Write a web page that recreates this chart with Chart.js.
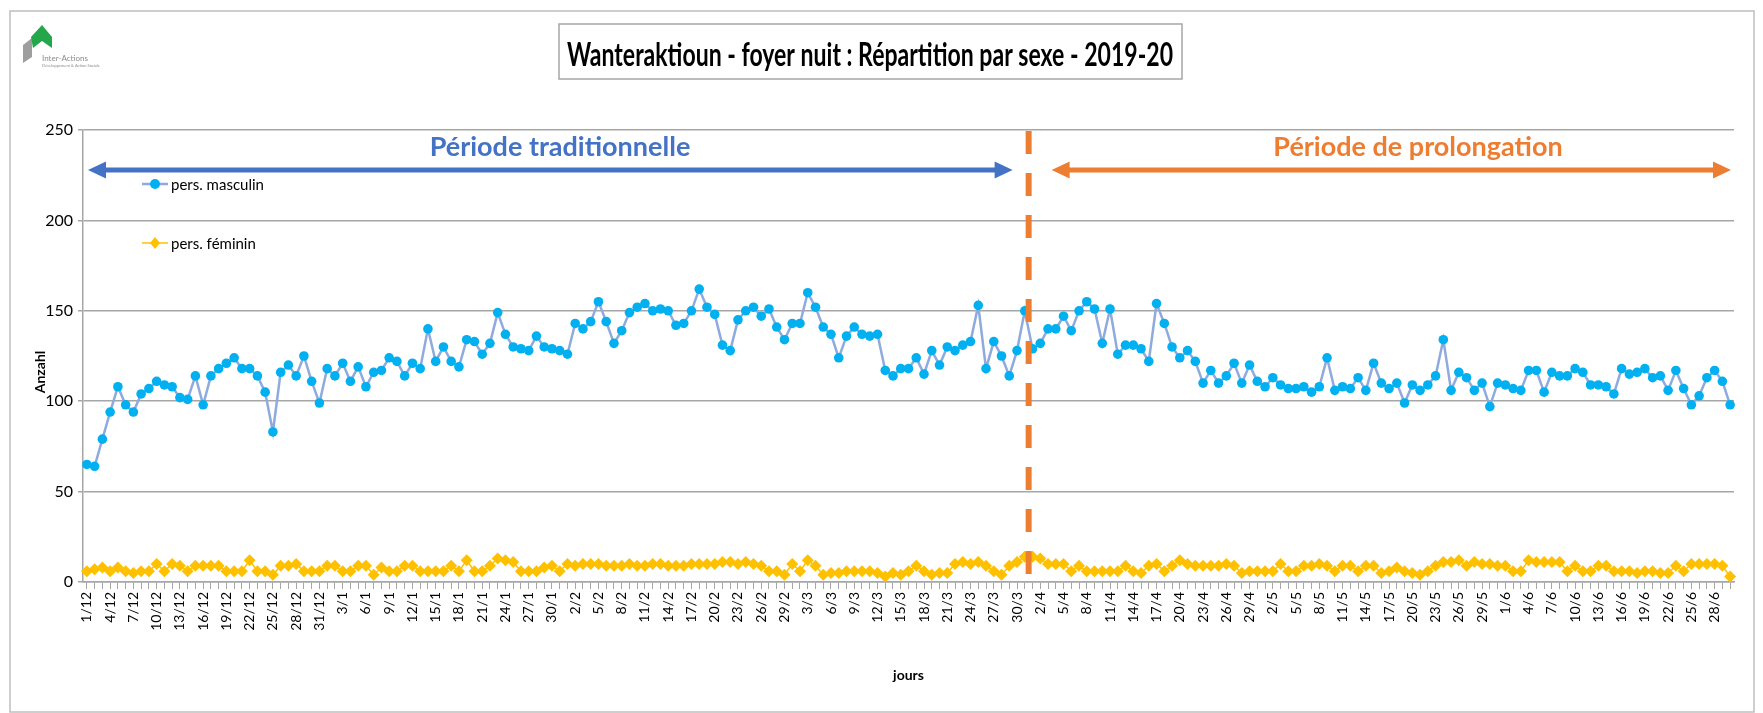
<!DOCTYPE html>
<html lang="fr">
<head>
<meta charset="utf-8">
<title>Wanteraktioun - foyer nuit</title>
<script src="https://cdn.jsdelivr.net/npm/chart.js@4.4.1/dist/chart.umd.min.js"></script>
<style>
  html, body { margin: 0; padding: 0; background: #fff; }
  #wrap { width: 1763px; height: 713px; }
</style>
</head>
<body>
<div id="wrap"><canvas id="chart" width="1763" height="713"></canvas></div>
<script>
const FONT = "Lato, 'Open Sans', 'DejaVu Sans', sans-serif";

// winter season Dec 2019 -> Jun 2020, one category per day
const months = [12, 1, 2, 3, 4, 5, 6];
const monthDays = [31, 31, 29, 31, 30, 31, 30];

const masculin = [
  65, 64, 79, 94, 108, 98, 94, 104, 107, 111,
  109, 108, 102, 101, 114, 98, 114, 118, 121, 124,
  118, 118, 114, 105, 83, 116, 120, 114, 125, 111,
  99, 118, 114, 121, 111, 119, 108, 116, 117, 124,
  122, 114, 121, 118, 140, 122, 130, 122, 119, 134,
  133, 126, 132, 149, 137, 130, 129, 128, 136, 130,
  129, 128, 126, 143, 140, 144, 155, 144, 132, 139,
  149, 152, 154, 150, 151, 150, 142, 143, 150, 162,
  152, 148, 131, 128, 145, 150, 152, 147, 151, 141,
  134, 143, 143, 160, 152, 141, 137, 124, 136, 141,
  137, 136, 137, 117, 114, 118, 118, 124, 115, 128,
  120, 130, 128, 131, 133, 153, 118, 133, 125, 114,
  128, 150, 129, 132, 140, 140, 147, 139, 150, 155,
  151, 132, 151, 126, 131, 131, 129, 122, 154, 143,
  130, 124, 128, 122, 110, 117, 110, 114, 121, 110,
  120, 111, 108, 113, 109, 107, 107, 108, 105, 108,
  124, 106, 108, 107, 113, 106, 121, 110, 107, 110,
  99, 109, 106, 109, 114, 134, 106, 116, 113, 106,
  110, 97, 110, 109, 107, 106, 117, 117, 105, 116,
  114, 114, 118, 116, 109, 109, 108, 104, 118, 115,
  116, 118, 113, 114, 106, 117, 107, 98, 103, 113,
  117, 111, 98
];

const feminin = [
  6, 7, 8, 6, 8, 6, 5, 6, 6, 10,
  6, 10, 9, 6, 9, 9, 9, 9, 6, 6,
  6, 12, 6, 6, 4, 9, 9, 10, 6, 6,
  6, 9, 9, 6, 6, 9, 9, 4, 8, 6,
  6, 9, 9, 6, 6, 6, 6, 9, 6, 12,
  6, 6, 9, 13, 12, 11, 6, 6, 6, 8,
  9, 6, 10, 9, 10, 10, 10, 9, 9, 9,
  10, 9, 9, 10, 10, 9, 9, 9, 10, 10,
  10, 10, 11, 11, 10, 11, 10, 9, 6, 6,
  4, 10, 6, 12, 9, 4, 5, 5, 6, 6,
  6, 6, 5, 3, 5, 4, 6, 9, 6, 4,
  5, 5, 10, 11, 10, 11, 9, 6, 4, 9,
  11, 14, 14, 13, 10, 10, 10, 6, 9, 6,
  6, 6, 6, 6, 9, 6, 5, 9, 10, 6,
  9, 12, 10, 9, 9, 9, 9, 10, 9, 5,
  6, 6, 6, 6, 10, 6, 6, 9, 9, 10,
  9, 6, 9, 9, 6, 9, 9, 5, 6, 8,
  6, 5, 4, 6, 9, 11, 11, 12, 9, 11,
  10, 10, 9, 9, 6, 6, 12, 11, 11, 11,
  11, 6, 9, 6, 6, 9, 9, 6, 6, 6,
  5, 6, 6, 5, 5, 9, 6, 10, 10, 10,
  10, 9, 3
];

const yTicks = [0, 50, 100, 150, 200, 250];
const lastTraditional = '31/3';

const jours = [];
months.forEach((m, i) => {
  for (let d = 1; d <= monthDays[i]; d++) jours.push(d + '/' + m);
});

const colors = {
  masculinLine: '#8FAADC',
  masculinDot: '#00B0F0',
  femininLine: '#FFC000',
  femininDot: '#FFC000',
  blue: '#4472C4',
  orange: '#ED7D31',
  grid: '#A6A6A6',
  text: '#000000',
};

function drawArrow(ctx, x1, x2, y, color) {
  const head = 18, half = 8.5;
  ctx.save();
  ctx.strokeStyle = color;
  ctx.fillStyle = color;
  ctx.lineWidth = 5;
  ctx.beginPath();
  ctx.moveTo(x1 + head - 2, y);
  ctx.lineTo(x2 - head + 2, y);
  ctx.stroke();
  ctx.beginPath();
  ctx.moveTo(x1, y);
  ctx.lineTo(x1 + head, y - half);
  ctx.lineTo(x1 + head, y + half);
  ctx.closePath();
  ctx.fill();
  ctx.beginPath();
  ctx.moveTo(x2, y);
  ctx.lineTo(x2 - head, y - half);
  ctx.lineTo(x2 - head, y + half);
  ctx.closePath();
  ctx.fill();
  ctx.restore();
}

// frame, logo, title box, axis titles
const decorations = {
  id: 'decorations',
  beforeDraw(chart) {
    const ctx = chart.ctx;
    ctx.save();
    ctx.fillStyle = '#fff';
    ctx.fillRect(0, 0, chart.width, chart.height);
    ctx.strokeStyle = '#BFBFBF';
    ctx.lineWidth = 1.5;
    ctx.strokeRect(10, 11, 1744, 701);

    // logo
    ctx.fillStyle = '#9E9E9E';
    ctx.beginPath();
    ctx.moveTo(23, 45); ctx.lineTo(32, 38); ctx.lineTo(32, 57); ctx.lineTo(23, 63);
    ctx.closePath(); ctx.fill();
    ctx.fillStyle = '#23A74A';
    ctx.beginPath();
    ctx.moveTo(31, 37); ctx.lineTo(42, 25); ctx.lineTo(52, 37); ctx.lineTo(52, 48);
    ctx.lineTo(42, 41); ctx.lineTo(33, 48);
    ctx.closePath(); ctx.fill();
    ctx.fillStyle = '#8C8C8C';
    ctx.font = '8px ' + FONT;
    ctx.textBaseline = 'alphabetic';
    ctx.fillText('Inter-Actions', 42, 61);
    ctx.font = '4px ' + FONT;
    ctx.fillText('Développement & Action Sociale', 42, 67);

    // title
    const title = 'Wanteraktioun - foyer nuit : Répartition par sexe - 2019-20';
    ctx.strokeStyle = colors.grid;
    ctx.lineWidth = 1.5;
    ctx.strokeRect(559, 24, 623, 55);
    ctx.fillStyle = colors.text;
    ctx.font = 'bold 33px ' + FONT;
    const w = ctx.measureText(title).width;
    const target = 606;
    ctx.save();
    ctx.translate(567, 66);
    ctx.scale(target / w, 1);
    ctx.fillText(title, 0, 0);
    ctx.restore();

    // axis titles
    ctx.font = 'bold 14px ' + FONT;
    ctx.textAlign = 'center';
    ctx.textBaseline = 'middle';
    const area = chart.chartArea;
    ctx.fillText('jours', (area.left + area.right) / 2, 675);
    ctx.save();
    ctx.translate(40, 372);
    ctx.rotate(-Math.PI / 2);
    ctx.fillText('Anzahl', 0, 0);
    ctx.restore();
    ctx.restore();
  },
  // period marker, arrows, legend
  afterDatasetsDraw(chart) {
    const ctx = chart.ctx;
    const area = chart.chartArea;
    const x = chart.scales.x;
    const i = jours.indexOf(lastTraditional);
    const split = (x.getPixelForValue(i) + x.getPixelForValue(i + 1)) / 2;

    ctx.save();
    ctx.strokeStyle = colors.orange;
    ctx.lineWidth = 6;
    ctx.setLineDash([23, 19]);
    ctx.beginPath();
    ctx.moveTo(split, area.top + 1);
    ctx.lineTo(split, area.bottom);
    ctx.stroke();
    ctx.setLineDash([]);

    drawArrow(ctx, area.left + 5, split - 16, 170, colors.blue);
    drawArrow(ctx, split + 23, area.right - 3, 170, colors.orange);

    ctx.font = 'bold 27px ' + FONT;
    ctx.textAlign = 'center';
    ctx.textBaseline = 'middle';
    ctx.fillStyle = colors.blue;
    ctx.fillText('Période traditionnelle', 560, 147);
    ctx.fillStyle = colors.orange;
    ctx.fillText('Période de prolongation', 1418, 147);

    // legend
    ctx.font = '15px ' + FONT;
    ctx.textAlign = 'left';
    ctx.strokeStyle = colors.masculinLine;
    ctx.lineWidth = 2.5;
    ctx.beginPath(); ctx.moveTo(142, 184); ctx.lineTo(168, 184); ctx.stroke();
    ctx.fillStyle = colors.masculinDot;
    ctx.beginPath(); ctx.arc(155, 184, 5, 0, Math.PI * 2); ctx.fill();
    ctx.fillStyle = colors.text;
    ctx.fillText('pers. masculin', 171, 185);

    ctx.strokeStyle = colors.femininLine;
    ctx.lineWidth = 1.5;
    ctx.beginPath(); ctx.moveTo(142, 243); ctx.lineTo(168, 243); ctx.stroke();
    ctx.fillStyle = colors.femininDot;
    ctx.beginPath();
    ctx.moveTo(155, 237); ctx.lineTo(160, 243); ctx.lineTo(155, 249); ctx.lineTo(150, 243);
    ctx.closePath(); ctx.fill();
    ctx.fillStyle = colors.text;
    ctx.fillText('pers. féminin', 171, 244);
    ctx.restore();
  }
};

new Chart(document.getElementById('chart'), {
  type: 'line',
  data: {
    labels: jours,
    datasets: [
      {
        label: 'pers. féminin',
        data: feminin,
        borderColor: colors.femininLine,
        borderWidth: 1.5,
        pointStyle: 'rectRot',
        pointRadius: 6,
        pointBackgroundColor: colors.femininDot,
        pointBorderColor: colors.femininDot,
        pointBorderWidth: 0,
        tension: 0,
      },
      {
        label: 'pers. masculin',
        data: masculin,
        borderColor: colors.masculinLine,
        borderWidth: 2.5,
        pointStyle: 'circle',
        pointRadius: 4.8,
        pointBackgroundColor: colors.masculinDot,
        pointBorderColor: colors.masculinDot,
        pointBorderWidth: 0,
        tension: 0,
      }
    ]
  },
  options: {
    responsive: false,
    animation: false,
    devicePixelRatio: 1,
    layout: { padding: { top: 130, right: 29, left: 0, bottom: 0 } },
    plugins: {
      legend: { display: false },
      tooltip: { enabled: false },
    },
    scales: {
      x: {
        type: 'category',
        offset: true,
        grid: {
          drawOnChartArea: false,
          color: colors.grid,
          tickLength: 7,
          lineWidth: 1,
        },
        border: { color: colors.grid, width: 1.5 },
        ticks: {
          autoSkip: false,
          minRotation: 90,
          maxRotation: 90,
          padding: 3,
          color: colors.text,
          font: { size: 14, family: FONT },
          callback: (v, i) => (i % 3 === 0 ? jours[i] : ''),
        },
        afterFit: (s) => { s.height = 131; },
      },
      y: {
        min: 0,
        max: 250,
        afterBuildTicks: (s) => { s.ticks = yTicks.map(v => ({ value: v })); },
        grid: {
          color: colors.grid,
          lineWidth: 1.5,
          tickLength: 5,
        },
        border: { color: colors.grid, width: 1.5 },
        ticks: {
          padding: 5,
          color: colors.text,
          font: { size: 16, family: FONT },
        },
        afterFit: (s) => { s.width = 83; },
      }
    }
  },
  plugins: [decorations]
});
</script>
</body>
</html>
